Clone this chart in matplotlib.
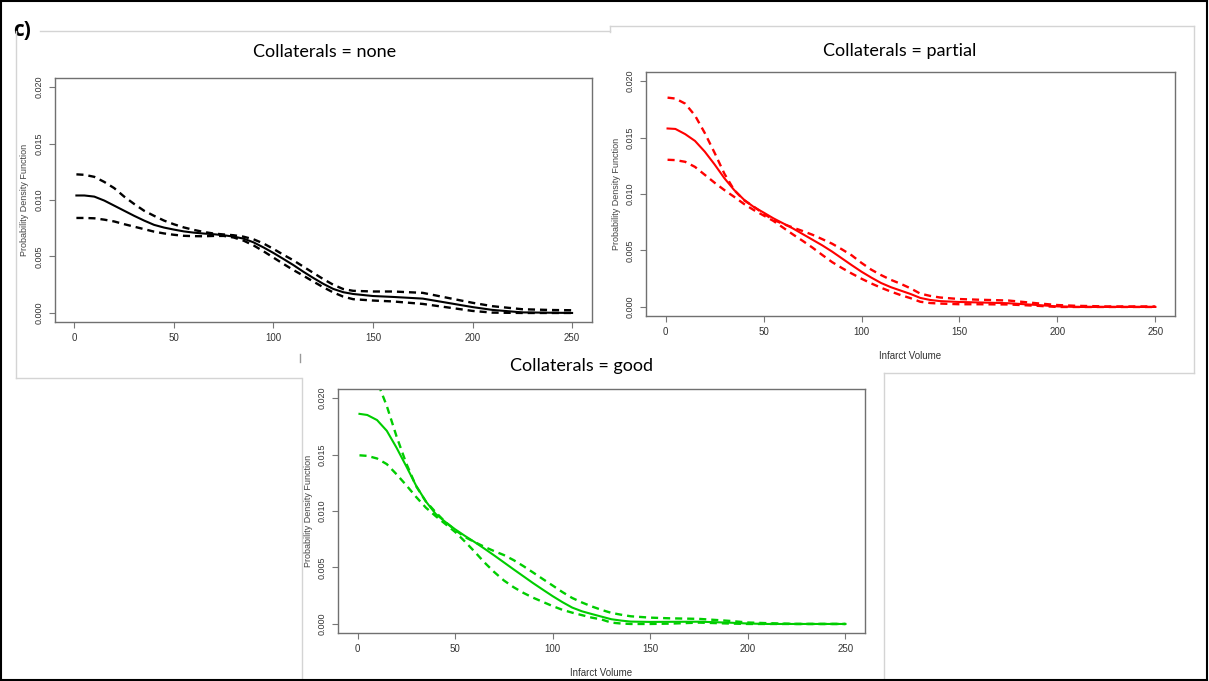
import numpy as np
import matplotlib
matplotlib.use('Agg')
from matplotlib import pyplot as plt
from matplotlib import font_manager
from matplotlib.lines import Line2D

# infarct volume grid where the curves were read
vol = [1, 5, 10, 15, 20, 25, 30, 35, 40, 45, 50, 55, 60, 65, 70, 75, 80, 85, 90, 95,
       100, 105, 110, 115, 120, 125, 130, 135, 140, 150, 160, 175, 190, 200, 210, 225, 240, 250]

# Collaterals = none
none_est = [0.0104, 0.0104, 0.0103, 0.00995, 0.0095, 0.00905, 0.0086, 0.00818, 0.0078, 0.00756,
            0.00738, 0.00722, 0.00711, 0.00703, 0.00697, 0.00688, 0.00676, 0.00658, 0.00625, 0.0058,
            0.00531, 0.00478, 0.00424, 0.00365, 0.0031, 0.00258, 0.00213, 0.00184, 0.00168,
            0.0015, 0.00142, 0.00127, 0.00082, 0.00052, 0.00027, 0.00005, 0.00002, 0.0]
none_hi = [0.01227, 0.01223, 0.01205, 0.0116, 0.01105, 0.0103, 0.00965, 0.00905, 0.0086, 0.00818,
           0.00785, 0.00757, 0.00735, 0.00717, 0.00703, 0.00695, 0.00688, 0.00675, 0.00652, 0.00615,
           0.00567, 0.00515, 0.00466, 0.0041, 0.00355, 0.003, 0.0025, 0.00212, 0.00196,
           0.0019, 0.0019, 0.00178, 0.00125, 0.0009, 0.0006, 0.00033, 0.00026, 0.00024]
none_lo = [0.00841, 0.00841, 0.00838, 0.00826, 0.0081, 0.00786, 0.00764, 0.00742, 0.0072, 0.00704,
           0.00692, 0.00683, 0.0068, 0.00679, 0.00682, 0.00682, 0.00668, 0.0064, 0.00598, 0.00546,
           0.0049, 0.00434, 0.0038, 0.0033, 0.00278, 0.00228, 0.00182, 0.00145, 0.00122,
           0.0011, 0.00102, 0.0008, 0.00043, 0.00018, 0.00003, 0.0, 0.0, 0.0]

# Collaterals = partial
part_est = [0.0158, 0.01576, 0.0153, 0.0147, 0.01375, 0.01262, 0.0114, 0.01035, 0.0095, 0.00885,
            0.00836, 0.00785, 0.0074, 0.00695, 0.00645, 0.00595, 0.00545, 0.0049, 0.0043, 0.0037,
            0.00312, 0.0026, 0.00212, 0.00175, 0.00145, 0.00115, 0.0008, 0.00062, 0.00052,
            0.00044, 0.0004, 0.00033, 0.00017, 0.00005, 0.0, 0.0, 0.0, 0.0]
part_hi = [0.01853, 0.01845, 0.018, 0.01695, 0.0154, 0.01365, 0.0118, 0.01035, 0.00945, 0.00888,
           0.00826, 0.00772, 0.00735, 0.00703, 0.00672, 0.00639, 0.006, 0.0056, 0.0051, 0.00457,
           0.0039, 0.0033, 0.00282, 0.0024, 0.00205, 0.00165, 0.00118, 0.00098, 0.00084,
           0.0007, 0.00064, 0.00057, 0.00032, 0.00017, 0.0001, 0.00005, 0.00005, 0.00005]
part_lo = [0.01303, 0.013, 0.01285, 0.0124, 0.0117, 0.011, 0.01035, 0.00975, 0.00912, 0.00858,
           0.0081, 0.00762, 0.00702, 0.00642, 0.00585, 0.00525, 0.0046, 0.00397, 0.00345, 0.00296,
           0.0025, 0.00208, 0.0017, 0.00136, 0.00105, 0.00078, 0.00046, 0.00035, 0.0003,
           0.00024, 0.00024, 0.00022, 0.0001, 0.0, 0.0, 0.0, 0.0, 0.0]

# Collaterals = good
good_est = [0.0186, 0.0185, 0.01805, 0.0171, 0.0156, 0.01395, 0.01225, 0.01085, 0.00975, 0.00903,
            0.00838, 0.0078, 0.00725, 0.00667, 0.00607, 0.00545, 0.00483, 0.00422, 0.00361, 0.00303,
            0.00246, 0.00193, 0.00145, 0.00112, 0.00088, 0.00065, 0.00042, 0.0003, 0.00021,
            0.00018, 0.00019, 0.0002, 0.00012, 0.00004, 0.0, 0.0, 0.0, 0.0]
good_hi = [0.0224, 0.0221, 0.0215, 0.0193, 0.0166, 0.0142, 0.0122, 0.01085, 0.0099, 0.00902,
           0.00832, 0.0077, 0.00725, 0.00683, 0.00645, 0.0061, 0.00565, 0.00512, 0.00455, 0.00397,
           0.0034, 0.00282, 0.0023, 0.0019, 0.00155, 0.00125, 0.00098, 0.00082, 0.00068,
           0.00056, 0.0005, 0.00045, 0.00028, 0.00013, 0.00007, 0.0, 0.0, 0.0]
good_lo = [0.01493, 0.01488, 0.01465, 0.01415, 0.01325, 0.01228, 0.01125, 0.0103, 0.00955, 0.00885,
           0.00815, 0.0073, 0.0064, 0.00545, 0.0046, 0.00385, 0.00325, 0.00275, 0.00232, 0.00195,
           0.00158, 0.00125, 0.001, 0.00078, 0.00056, 0.0004, 0.00012, 0.00004, 0.0,
           0.0, 0.00003, 0.00012, 0.00004, 0.0, 0.0, 0.0, 0.0, 0.0]

xticks = [0, 50, 100, 150, 200, 250]
yticks = [0.000, 0.005, 0.010, 0.015, 0.020]

W, H = 1209, 681
names = {f.name for f in font_manager.fontManager.ttflist}
tickfont = 'Liberation Sans Narrow' if 'Liberation Sans Narrow' in names else 'Liberation Sans'
titlefont = 'Lato' if 'Lato' in names else 'DejaVu Sans'

fig = plt.figure(figsize=(W / 100, H / 100), dpi=100)
fig.patch.set_facecolor('white')


def rect(l, t, r, b):
    return [l / W, 1 - b / H, (r - l) / W, (b - t) / H]


def gline(x0, y0, x1, y1, color='#d4d4d4', lw=1.0):
    fig.add_artist(Line2D([x0 / W, x1 / W], [1 - y0 / H, 1 - y1 / H],
                          color=color, lw=lw, zorder=5))


def panel(pos, est, hi, lo, col, title, tx, ty, xlabel=True):
    ax = fig.add_axes(rect(*pos))
    ax.plot(vol, hi, color=col, lw=1.7, ls=(0, (3.0, 2.1)))
    ax.plot(vol, lo, color=col, lw=1.7, ls=(0, (3.0, 2.1)))
    ax.plot(vol, est, color=col, lw=1.5)
    ax.set_xlim(-10, 260)
    ax.set_ylim(-0.0008, 0.0208)
    ax.set_xticks(xticks)
    ax.set_xticklabels([str(v) for v in xticks])
    ax.set_yticks(yticks)
    ax.set_yticklabels(['%.3f' % v for v in yticks])
    ax.tick_params(direction='out', length=4, width=0.8, color='#777777',
                   labelsize=7, labelcolor='#333333', pad=4)
    ax.tick_params(axis='y', labelrotation=90, labelsize=6.5)
    for lb in ax.get_yticklabels():
        lb.set_va('center')
        lb.set_family(tickfont)
    for lb in ax.get_xticklabels():
        lb.set_family(tickfont)
    for s in ax.spines.values():
        s.set_color('#707070')
        s.set_linewidth(1.0)
    ax.set_ylabel('Probability Density Function', fontsize=6.5, color='#444444',
                  family='Liberation Sans')
    ax.yaxis.set_label_coords(-0.047, 0.5)
    if xlabel:
        ax.set_xlabel('Infarct Volume', fontsize=7, color='#333333', family=tickfont)
        ax.xaxis.set_label_coords(0.5, -0.143)
    fig.text(tx / W, 1 - ty / H, title, fontsize=13, family=titlefont,
             ha='center', va='center', color='black')
    return ax


# panel frames (screenshot crops)
gline(610, 26, 1194, 26)
gline(1194, 26, 1194, 373)
gline(884, 373, 1194, 373)
gline(610, 26, 610, 32)
gline(40, 31, 610, 31)
gline(16, 31, 16, 378)
gline(16, 378, 301, 378)
gline(302, 378, 302, 681)
gline(884, 373, 884, 681)
gline(300, 354, 300, 362, color='#999999')

panel((54.5, 78, 592, 322), none_est, none_hi, none_lo, 'black',
      'Collaterals = none', 325, 52, xlabel=False)
panel((646, 72, 1175, 316), part_est, part_hi, part_lo, '#ff0000',
      'Collaterals = partial', 900, 51)
panel((338, 389, 865, 633), good_est, good_hi, good_lo, '#00cd00',
      'Collaterals = good', 581, 366)

fig.text(13 / W, 1 - 31 / H, 'c)', fontsize=15, fontweight='bold',
         family='Open Sans', ha='left', va='center')

# outer black frame
gline(1, 1, 1207, 1, color='black', lw=1.5)
gline(1, 1, 1, 680, color='black', lw=1.5)
gline(1207, 1, 1207, 680, color='black', lw=1.5)
gline(1, 680, 1207, 680, color='black', lw=1.5)

plt.savefig('out.png', dpi=100)
